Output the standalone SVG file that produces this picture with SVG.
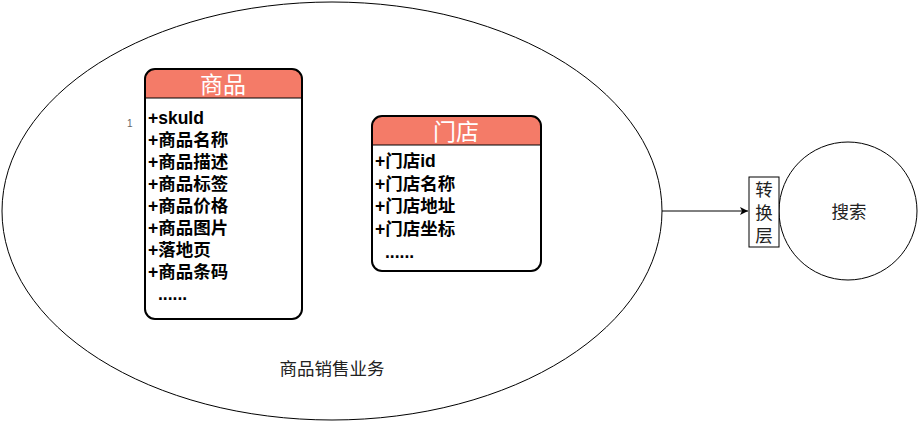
<svg xmlns="http://www.w3.org/2000/svg" width="921" height="422" viewBox="0 0 921 422">
<style>
.cn{font-family:"Liberation Sans","Noto Sans CJK SC",sans-serif;}
.hdr{fill:#F47B68;stroke:none;}
.attr{font-size:17.5px;font-weight:bold;fill:#000;}
.title{font-size:23px;fill:#fff;}
.lbl{font-size:17.5px;fill:#222;}
</style>
<defs>
<marker id="arr" markerWidth="10" markerHeight="10" refX="9" refY="5" orient="auto" markerUnits="userSpaceOnUse">
<path d="M1,1 L9,5 L1,9 L3,5 Z" fill="#000"/>
</marker>
<clipPath id="c1"><rect x="145" y="69" width="157" height="250" rx="10"/></clipPath>
<clipPath id="c2"><rect x="372" y="116" width="169" height="155" rx="10"/></clipPath>
</defs>
<g id="business">
<ellipse cx="332" cy="211" rx="330" ry="209" fill="#fff" stroke="#000" stroke-width="1"/>
<text class="cn lbl" x="332" y="375" text-anchor="middle">商品销售业务</text>
</g>
<g id="connectors">
<line x1="662" y1="211" x2="748" y2="211" stroke="#000" stroke-width="1" marker-end="url(#arr)"/>
</g>
<g id="product">
<rect x="145" y="69" width="157" height="250" rx="10" fill="#fff"/>
<rect class="hdr" x="145" y="69" width="157" height="29" clip-path="url(#c1)"/>
<line x1="145" y1="98" x2="302" y2="98" stroke="#000" stroke-width="1"/>
<rect x="145" y="69" width="157" height="250" rx="10" fill="none" stroke="#000" stroke-width="2"/>
<text class="cn title" x="223" y="93" text-anchor="middle">商品</text>
<text class="cn" x="127" y="127" font-size="10" fill="#666">1</text>
<g class="cn attr">
<text x="148" y="124">+skuId</text>
<text x="148" y="146">+商品名称</text>
<text x="148" y="168">+商品描述</text>
<text x="148" y="190">+商品标签</text>
<text x="148" y="212">+商品价格</text>
<text x="148" y="234">+商品图片</text>
<text x="148" y="256">+落地页</text>
<text x="148" y="278">+商品条码</text>
<text x="158" y="300">......</text>
</g>
</g>
<g id="store">
<rect x="372" y="116" width="169" height="155" rx="10" fill="#fff"/>
<rect class="hdr" x="372" y="116" width="169" height="29" clip-path="url(#c2)"/>
<line x1="372" y1="145" x2="541" y2="145" stroke="#000" stroke-width="1"/>
<rect x="372" y="116" width="169" height="155" rx="10" fill="none" stroke="#000" stroke-width="2"/>
<text class="cn title" x="456" y="140" text-anchor="middle">门店</text>
<g class="cn attr">
<text x="375" y="167">+门店id</text>
<text x="375" y="190">+门店名称</text>
<text x="375" y="212">+门店地址</text>
<text x="375" y="235">+门店坐标</text>
<text x="385" y="258">......</text>
</g>
</g>
<g id="search">
<circle cx="848" cy="211" r="69" fill="#fff" stroke="#000" stroke-width="1"/>
<text class="cn lbl" x="849" y="218" text-anchor="middle">搜索</text>
</g>
<g id="transform">
<rect x="749" y="177" width="30" height="70" fill="#fff" stroke="#000" stroke-width="1"/>
<text class="cn lbl" x="764" y="196" text-anchor="middle">转</text>
<text class="cn lbl" x="764" y="219" text-anchor="middle">换</text>
<text class="cn lbl" x="764" y="242" text-anchor="middle">层</text>
</g>
</svg>
